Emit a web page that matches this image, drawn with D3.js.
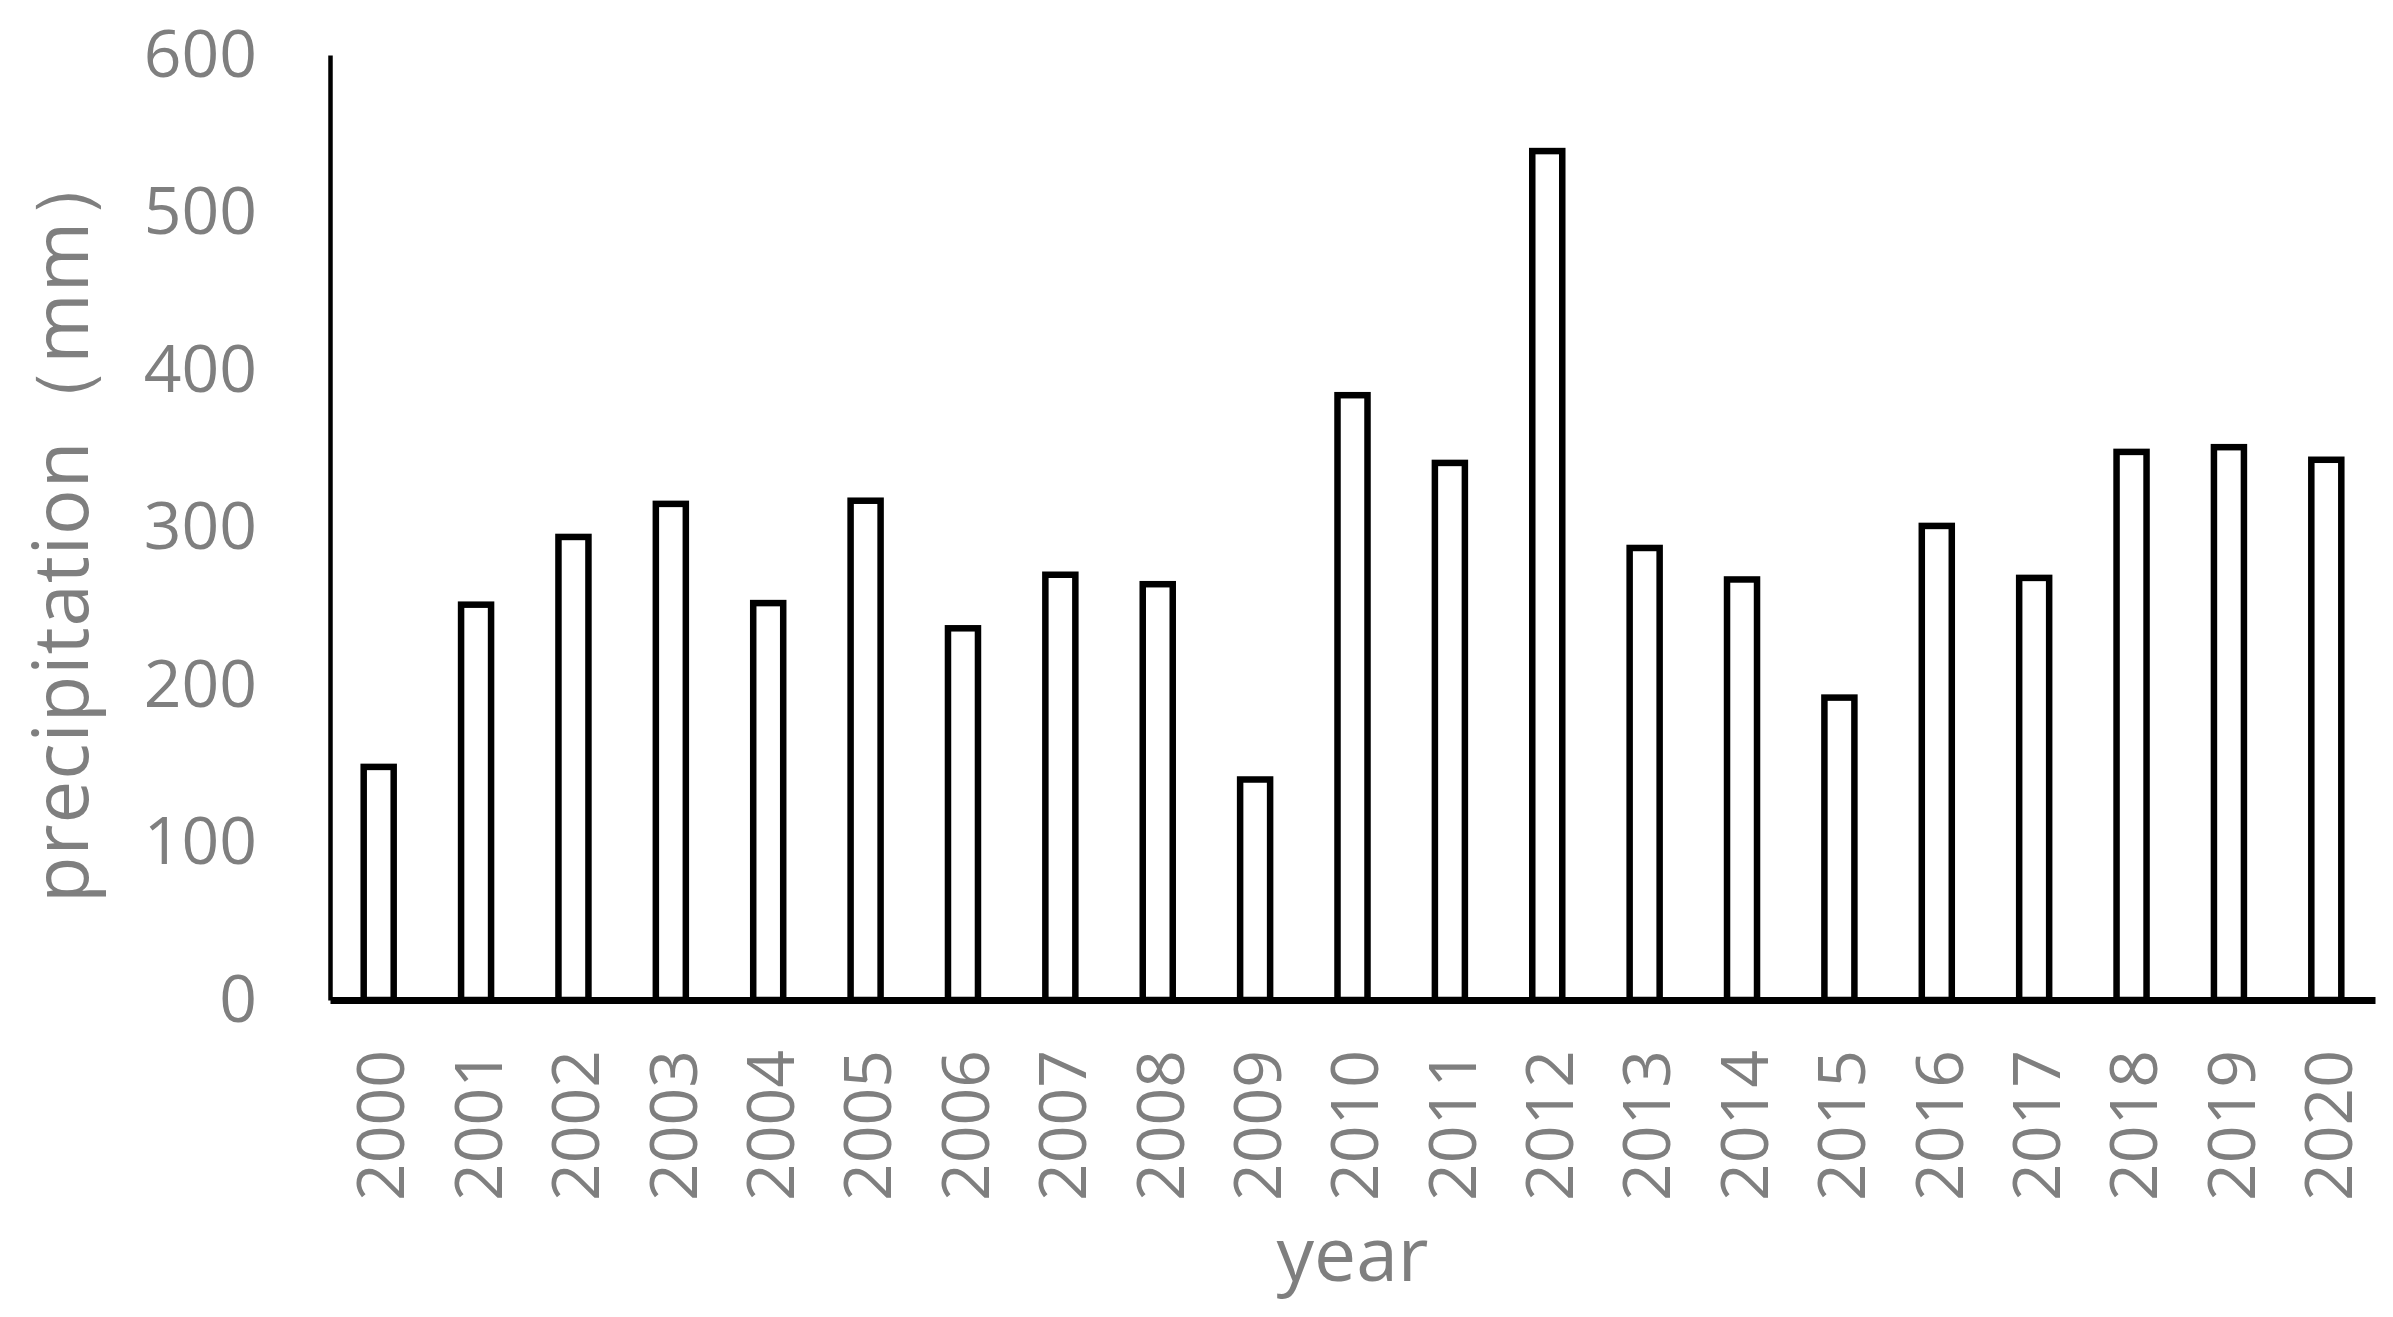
<!DOCTYPE html>
<html>
<head>
<meta charset="utf-8">
<script src="https://cdn.jsdelivr.net/npm/d3@7"></script>
<style>
  html, body { margin: 0; padding: 0; background: #ffffff; }
  svg { display: block; }
</style>
</head>
<body>
<script>
// ---- data ----
const years = ["2000","2001","2002","2003","2004","2005","2006","2007","2008","2009","2010",
               "2011","2012","2013","2014","2015","2016","2017","2018","2019","2020"];
const precipitation = [148, 251, 294, 315, 252, 317, 236, 270, 264, 140, 384,
                       341, 539, 287, 267, 192, 301, 268, 348, 351, 343];
const yTicks = [0, 100, 200, 300, 400, 500, 600];
const xTitle = "year";
const yTitle = "precipitation（mm）";

// ---- layout ----
const W = 2393, H = 1317;
const plot = { left: 330, right: 2375, top: 55, bottom: 1000 };
const gray = "#7f7f7f";
const tickFont = "'Open Sans', 'Noto Sans', sans-serif";

const svg = d3.select("body").append("svg")
  .attr("width", W).attr("height", H);

const x = d3.scaleBand().domain(years).range([plot.left, plot.right]).padding(0);
const y = d3.scaleLinear().domain([0, 600]).range([plot.bottom, plot.top]);

const barW = x.bandwidth() * 0.308;

// bars
svg.append("g").selectAll("rect")
  .data(years.map((yr, i) => ({ yr, v: precipitation[i] })))
  .join("rect")
  .attr("x", d => x(d.yr) + (x.bandwidth() - barW) / 2)
  .attr("y", d => y(d.v))
  .attr("width", barW)
  .attr("height", d => y(0) - y(d.v))
  .attr("fill", "#ffffff")
  .attr("stroke", "#000000")
  .attr("stroke-width", 6.5)
  .attr("stroke-linejoin", "miter");

// y axis
const yAxis = svg.append("g")
  .attr("transform", `translate(${plot.left},0)`)
  .call(d3.axisLeft(y).tickValues(yTicks).tickSize(0).tickSizeOuter(0).tickPadding(73));
yAxis.select(".domain").attr("stroke", "#000").attr("stroke-width", 4.5);
yAxis.selectAll(".tick text")
  .attr("fill", gray)
  .attr("font-family", tickFont)
  .attr("font-size", 66)
  .attr("dy", "0.32em");

// x axis
const xAxis = svg.append("g")
  .attr("transform", `translate(0,${plot.bottom})`)
  .call(d3.axisBottom(x).tickSize(0).tickSizeOuter(0));
xAxis.select(".domain").attr("stroke", "#000").attr("stroke-width", 7);
xAxis.selectAll(".tick text")
  .attr("fill", gray)
  .attr("font-family", tickFont)
  .attr("font-size", 66)
  .attr("text-anchor", "end")
  .attr("transform", "rotate(-90)")
  .attr("x", -50)
  .attr("y", 2)
  .attr("dy", "0.36em");

// axis titles
svg.append("text")
  .attr("x", (plot.left + plot.right) / 2)
  .attr("y", 1281)
  .attr("text-anchor", "middle")
  .attr("fill", gray)
  .attr("font-family", tickFont)
  .attr("font-size", 75)
  .text(xTitle);

svg.append("text")
  .attr("transform", `translate(88,${(plot.top + plot.bottom) / 2 - 4}) rotate(-90)`)
  .attr("text-anchor", "middle")
  .attr("fill", gray)
  .attr("font-family", tickFont)
  .attr("font-size", 76)
  .attr("letter-spacing", 1)
  .text(yTitle);
</script>
</body>
</html>
